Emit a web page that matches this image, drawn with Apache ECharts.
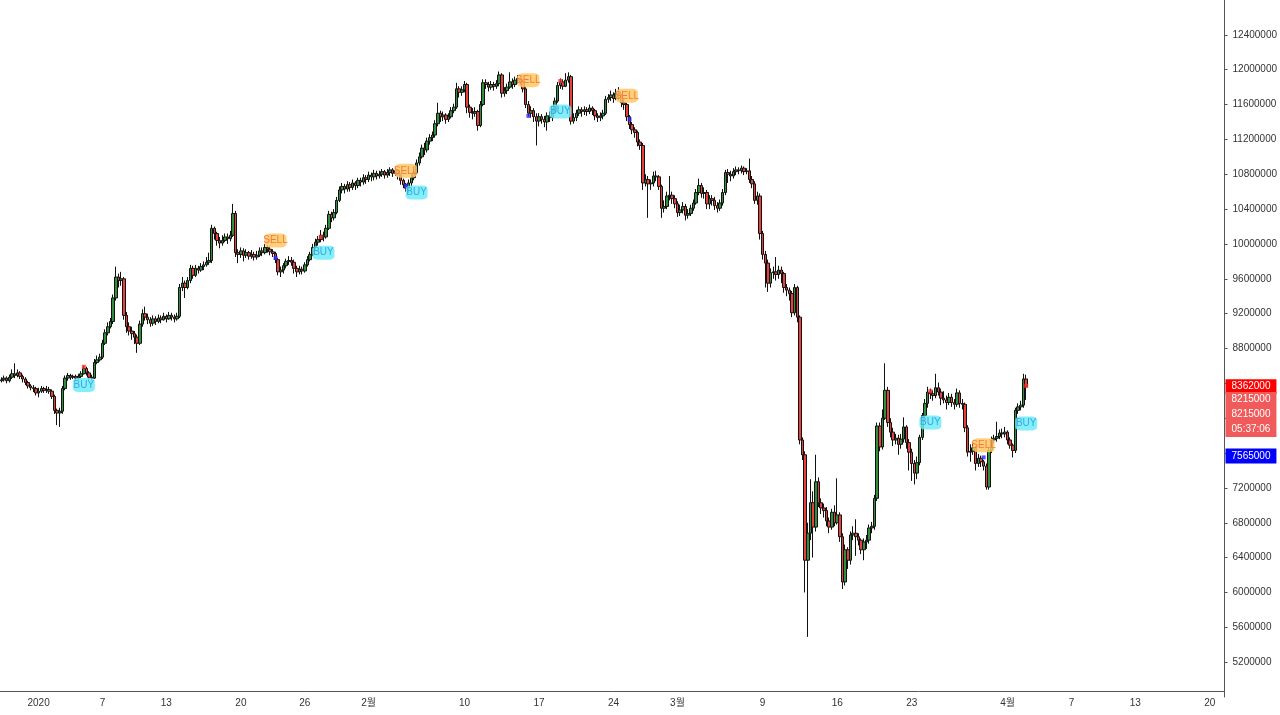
<!DOCTYPE html>
<html>
<head>
<meta charset="utf-8">
<title>BTC/KRW 6h</title>
<script src="https://cdn.jsdelivr.net/npm/echarts@6.0.0/dist/echarts.min.js"></script>
<style>
  html, body { margin: 0; padding: 0; background: #fff; }
  #main { width: 1280px; height: 715px; }
</style>
</head>
<body>
<div id="main"></div>
<script>
// prices are in units of 10,000 KRW (axis labels multiply back)
var opens = [
  843,844,846,843,847,851,849,852,848,845, 841,837,835,834,829,831,834,832,833,831,
  825,809,806,808,834,846,849,847,848,846, 848,851,857,852,847,846,864,867,870,886,
  898,905,911,938,962,958,960,918,905,900, 897,893,886,908,920,916,913,909,914,911,
  915,913,917,914,918,916,914,917,950,955, 950,958,972,964,972,970,974,976,979,981,
  1018,1012,1004,1001,1004,1008,1006,1010,1035,990, 988,992,987,990,986,988,985,987,992,990,
  996,994,991,989,982,968,970,975,980,981, 979,972,968,971,969,976,982,988,996,1002,
  1005,1010,1008,1018,1034,1030,1036,1050,1062,1066, 1063,1068,1065,1070,1067,1073,1071,1076,1074,1079,
  1077,1081,1078,1080,1083,1079,1082,1085,1081,1084, 1079,1073,1068,1064,1070,1076,1082,1093,1100,1110,
  1108,1118,1122,1125,1138,1150,1146,1148,1143,1146, 1153,1157,1178,1174,1177,1183,1157,1151,1150,1152,
  1136,1160,1185,1183,1180,1183,1181,1184,1194,1173, 1176,1180,1186,1183,1188,1190,1186,1178,1160,1150,
  1153,1146,1141,1146,1143,1140,1147,1145,1152,1164, 1182,1186,1181,1188,1192,1141,1145,1150,1154,1152,
  1154,1152,1156,1153,1147,1145,1147,1150,1166,1168, 1171,1167,1173,1170,1162,1160,1146,1137,1131,1128,
  1117,1113,1070,1074,1069,1070,1078,1077,1066,1041, 1043,1055,1056,1052,1046,1036,1039,1043,1033,1035,
  1041,1047,1059,1067,1058,1059,1046,1052,1050,1044, 1041,1047,1059,1082,1080,1078,1083,1085,1084,1087,
  1083,1084,1074,1069,1050,1055,1012,988,978,955, 967,968,965,970,966,950,947,943,921,950,
  916,775,758,637,668,703,675,727,703,697, 694,682,675,692,680,689,664,612,649,637,
  666,668,664,660,649,658,660,674,676,708, 791,767,800,832,795,784,775,777,770,776,
  790,772,761,748,737,749,778,803,817,830, 828,826,835,830,823,821,818,824,818,816,
  829,817,816,789,761,762,766,748,754,750, 745,721,763,775,777,779,783,782,784,775,
  769,763,809,813,815,845
];
var closes = [
  844,846,843,847,851,849,852,848,845,841, 837,835,834,829,831,834,832,833,831,825,
  809,806,808,834,846,849,847,848,846,848, 851,857,852,847,846,864,867,870,886,898,
  905,911,938,962,958,960,918,905,900,897, 893,886,908,920,916,913,909,914,911,915,
  913,917,914,918,916,914,917,950,955,950, 958,972,964,972,970,974,976,979,981,1018,
  1012,1004,1001,1004,1008,1006,1010,1035,990,988, 992,987,990,986,988,985,987,992,990,996,
  994,991,989,982,968,970,975,980,981,979, 972,968,971,969,976,982,988,996,1002,1005,
  1010,1008,1018,1034,1030,1036,1050,1062,1066,1063, 1068,1065,1070,1067,1073,1071,1076,1074,1079,1077,
  1081,1078,1080,1083,1079,1082,1085,1081,1084,1079, 1073,1068,1064,1070,1076,1082,1093,1100,1110,1108,
  1118,1122,1125,1138,1150,1146,1148,1143,1146,1153, 1157,1178,1174,1177,1183,1157,1151,1150,1152,1136,
  1160,1185,1183,1180,1183,1181,1184,1194,1173,1176, 1180,1186,1183,1188,1190,1186,1178,1160,1150,1153,
  1146,1141,1146,1143,1140,1147,1145,1152,1164,1182, 1186,1181,1188,1192,1141,1145,1150,1154,1152,1154,
  1152,1156,1153,1147,1145,1147,1150,1166,1168,1171, 1167,1173,1170,1162,1160,1146,1137,1131,1128,1117,
  1113,1070,1074,1069,1070,1078,1077,1066,1041,1043, 1055,1056,1052,1046,1036,1039,1043,1033,1035,1041,
  1047,1059,1067,1058,1059,1046,1052,1050,1044,1041, 1047,1059,1082,1080,1078,1083,1085,1084,1087,1083,
  1084,1074,1069,1050,1055,1012,988,978,955,967, 968,965,970,966,950,947,943,921,950,916,
  775,758,637,668,703,675,727,703,697,694, 682,675,692,680,689,664,612,649,637,666,
  668,664,660,649,658,660,674,676,708,791, 767,800,832,795,784,775,777,770,776,790,
  772,761,748,737,749,778,803,817,830,828, 826,835,830,823,821,818,824,818,816,829,
  817,816,789,761,762,766,748,754,750,745, 721,763,775,777,779,783,782,784,775,769,
  763,809,813,815,845,836.2
];
var lows = [
  841,842,840,841,845,846,847,845,841,838, 834,832,830,826,824,829,829,829,828,822,
  805,792,790,805,832,843,844,845,843,844, 846,850,849,844,843,845,862,865,868,884,
  895,903,908,935,950,952,913,898,895,890, 885,875,884,905,912,908,905,906,907,909,
  909,912,910,913,912,910,912,915,946,938, 948,955,960,962,966,968,970,974,976,978,
  1005,998,995,998,1002,1000,1003,1008,985,978, 984,980,984,982,983,981,982,985,986,988,
  990,987,985,978,964,962,966,972,976,975, 966,962,965,965,967,974,980,986,994,998,
  1002,1003,1006,1016,1025,1027,1034,1048,1058,1058, 1060,1060,1062,1062,1064,1066,1068,1069,1071,1072,
  1073,1074,1075,1077,1075,1076,1078,1077,1078,1074, 1068,1064,1060,1058,1066,1073,1080,1090,1098,1102,
  1105,1114,1118,1122,1135,1140,1141,1138,1140,1144, 1150,1155,1168,1170,1174,1150,1145,1143,1146,1130,
  1134,1158,1178,1175,1177,1176,1178,1181,1168,1169, 1172,1178,1178,1180,1184,1182,1174,1156,1146,1145,
  1140,1113,1135,1138,1134,1130,1140,1141,1150,1162, 1178,1177,1180,1185,1137,1138,1141,1147,1146,1148,
  1147,1149,1148,1142,1140,1141,1143,1148,1162,1164, 1162,1165,1165,1157,1154,1141,1132,1126,1122,1112,
  1108,1062,1066,1030,1062,1066,1072,1062,1030,1036, 1040,1050,1046,1041,1031,1032,1035,1027,1029,1032,
  1038,1045,1056,1053,1052,1040,1040,1044,1039,1036, 1038,1044,1056,1070,1072,1075,1079,1080,1081,1079,
  1080,1070,1064,1046,1045,1005,982,950,945,950, 960,958,960,955,944,940,935,916,918,910,
  770,752,600,549,660,640,670,698,690,686, 676,668,672,676,678,658,604,608,627,632,
  660,642,654,644,637,650,656,668,672,705, 762,764,798,790,778,768,770,758,765,772,
  765,740,728,724,730,746,775,800,812,822, 820,823,826,815,817,810,815,813,810,813,
  812,810,784,756,750,758,740,744,744,740, 718,718,760,771,773,776,777,778,770,765,
  755,760,805,809,812,821
];
var highs = [
  847,849,848,850,856,863,856,854,850,847, 843,839,838,836,835,837,836,837,836,833,
  827,811,812,837,849,852,851,850,850,851, 854,860,859,854,850,868,872,874,890,902,
  910,915,942,974,966,968,962,922,910,905, 900,896,912,925,928,920,916,918,917,919,
  918,921,919,922,921,919,921,954,962,958, 962,976,975,976,975,978,980,985,990,1022,
  1020,1014,1008,1010,1012,1012,1015,1046,1038,994, 996,995,994,992,993,991,992,996,996,1000,
  999,997,994,991,984,974,978,983,986,985, 982,975,975,974,979,986,991,1000,1006,1009,
  1016,1014,1022,1038,1037,1040,1054,1066,1070,1069, 1072,1071,1074,1072,1076,1076,1080,1079,1083,1082,
  1085,1084,1084,1086,1085,1086,1088,1087,1089,1086, 1081,1075,1070,1074,1080,1086,1097,1105,1114,1116,
  1122,1126,1129,1142,1162,1153,1152,1150,1150,1157, 1161,1185,1181,1181,1187,1185,1160,1156,1157,1154,
  1164,1189,1189,1186,1187,1186,1188,1198,1196,1180, 1184,1197,1190,1192,1194,1193,1189,1180,1164,1158,
  1156,1150,1150,1149,1147,1151,1152,1156,1168,1186, 1190,1189,1196,1197,1194,1150,1154,1158,1157,1158,
  1157,1160,1158,1155,1150,1151,1154,1170,1172,1176, 1174,1178,1180,1172,1166,1162,1148,1140,1134,1130,
  1120,1116,1080,1078,1074,1083,1084,1079,1068,1050, 1060,1078,1060,1056,1049,1045,1048,1046,1040,1045,
  1051,1063,1075,1070,1065,1062,1056,1056,1054,1048, 1051,1063,1085,1086,1084,1087,1089,1088,1090,1089,
  1087,1098,1078,1072,1060,1058,1015,992,982,972, 974,985,975,974,968,954,950,946,954,952,
  918,778,762,680,730,716,758,732,708,702, 698,686,696,700,731,692,668,655,652,670,
  676,684,668,662,662,666,678,681,712,795, 795,810,863,836,800,789,782,781,782,801,
  792,776,765,752,756,781,806,822,836,834, 832,851,841,834,831,826,829,828,822,834,
  832,822,818,792,770,771,768,759,757,752, 748,766,779,781,796,787,788,790,786,778,
  771,812,817,820,851,850
];

// bottom axis ticks (dates at 00:00) and their texts
var tickDates = ['2020-01-01','2020-01-07','2020-01-13','2020-01-20','2020-01-26','2020-02-01',
  '2020-02-10','2020-02-17','2020-02-24','2020-03-01','2020-03-09','2020-03-16','2020-03-23',
  '2020-04-01','2020-04-07','2020-04-13','2020-04-20'];
var tickTexts = ['2020','7','13','20','26','2월','10','17','24','3월','9','16','23','4월','7','13','20'];

// signal labels: candle index, price, kind
var sigIdx = [31, 103, 121, 152, 156, 198, 210, 235, 349, 369, 385];
var sigPrice = [838, 1004, 990, 1084, 1059, 1188, 1152, 1170, 795, 769, 794];
var sigType = ['BUY','SELL','BUY','SELL','BUY','SELL','BUY','SELL','BUY','SELL','BUY'];

// small marker dots
var redDotIdx = [31, 120, 210, 349, 385];
var redDotPrice = [859, 1008, 1187, 831, 837];
var blueDotIdx = [103, 152, 198, 236, 369];
var blueDotPrice = [984, 1067, 1147, 1143, 755];

// price tags on the right scale
var tagValues = [836.2, 821.5, 821.5, 821.5, 756.5];
var tagTexts = ['8362000', '8215000', '8215000', '05:37:06', '7565000'];
var tagColors = ['#ff0000', '#f05a5a', '#f05a5a', '#f05a5a', '#0000ff'];
var tagShift = [0, 0, 15, 30, 0];

var SLOTS = 460;
var start = Date.UTC(2019, 11, 28, 12);
var categories = [];
for (var i = 0; i < SLOTS; i++) {
    var d = new Date(start + i * 6 * 3600 * 1000);
    var hh = d.getUTCHours();
    categories.push(d.toISOString().slice(0, 10) + ' ' + (hh < 10 ? '0' + hh : hh));
}
var tickMap = {};
for (var j = 0; j < tickDates.length; j++) {
    tickMap[tickDates[j] + ' 00'] = tickTexts[j];
}
function isTick(idx, value) {
    return tickMap.hasOwnProperty(value);
}

// price scale labels sitting under a tag are dropped, like the original
function underTag(v) {
    for (var q = 0; q < tagValues.length; q++) {
        if (Math.abs(v - tagValues[q]) < 12) return true;
    }
    return false;
}

var candles = [];
for (var k = 0; k < closes.length; k++) {
    candles.push([opens[k], closes[k], lows[k], highs[k]]);
}

var signals = [];
for (var s = 0; s < sigIdx.length; s++) {
    var buy = sigType[s] == 'BUY';
    signals.push({
        name: sigType[s],
        coord: [categories[sigIdx[s]], sigPrice[s]],
        itemStyle: { color: buy ? 'rgba(110,235,250,0.85)' : 'rgba(255,200,100,0.85)' },
        label: { color: buy ? '#35a9e0' : '#f47a3c' }
    });
}

var tags = [];
for (var t = 0; t < tagValues.length; t++) {
    tags.push({
        yAxis: tagValues[t],
        label: {
            formatter: tagTexts[t],
            backgroundColor: tagColors[t],
            offset: [0, tagShift[t]]
        }
    });
}

function dots(idx, price) {
    var out = [];
    for (var n = 0; n < idx.length; n++) out.push([categories[idx[n]], price[n]]);
    return out;
}

var myChart = echarts.init(document.getElementById('main'));
myChart.setOption({
    animation: false,
    backgroundColor: '#ffffff',
    textStyle: { fontFamily: 'Liberation Sans, "Noto Sans CJK KR", sans-serif' },
    grid: { left: -1, right: 49, top: -1, bottom: 18 },
    xAxis: {
        type: 'category',
        data: categories,
        boundaryGap: true,
        offset: -6,
        axisLine: { lineStyle: { color: '#555555', width: 1 } },
        axisTick: { interval: isTick, alignWithLabel: true, length: 4, lineStyle: { color: '#555555' } },
        axisLabel: {
            interval: isTick,
            formatter: function (value) { return tickMap[value] || ''; },
            color: '#333333',
            fontSize: 10,
            margin: 7
        },
        splitLine: { show: false }
    },
    yAxis: {
        type: 'value',
        position: 'right',
        min: 480,
        max: 1280,
        interval: 40,
        axisLine: { show: true, lineStyle: { color: '#555555' } },
        axisTick: { show: true, length: 3, lineStyle: { color: '#555555' } },
        axisLabel: {
            color: '#333333',
            fontSize: 10,
            margin: 8,
            showMinLabel: false,
            showMaxLabel: false,
            formatter: function (v) { return underTag(v) ? '' : String(Math.round(v * 10000)); }
        },
        splitLine: { show: false }
    },
    series: [
        {
            type: 'candlestick',
            data: candles,
            barWidth: 3,
            itemStyle: {
                color: '#2f8f3a',
                color0: '#e8403a',
                borderColor: '#111111',
                borderColor0: '#111111',
                borderWidth: 1
            },
            markPoint: {
                symbol: 'roundRect',
                symbolSize: [22, 14],
                label: { show: true, formatter: '{b}', fontSize: 10 },
                data: signals
            }
        },
        {
            type: 'scatter',
            symbol: 'rect',
            symbolSize: 4,
            itemStyle: { color: '#ff2a2a' },
            data: dots(redDotIdx, redDotPrice)
        },
        {
            type: 'scatter',
            symbol: 'rect',
            symbolSize: 4,
            itemStyle: { color: '#2a2aff' },
            data: dots(blueDotIdx, blueDotPrice)
        },
        {
            // price tags drawn on the right scale
            type: 'line',
            data: [],
            clip: false,
            silent: true,
            markLine: {
                silent: true,
                symbol: 'none',
                animation: false,
                lineStyle: { color: 'rgba(0,0,0,0)', type: 'solid', width: 1 },
                label: {
                    show: true,
                    position: 'end',
                    distance: 1,
                    color: '#ffffff',
                    fontSize: 10,
                    padding: [3, 6, 2, 6]
                },
                data: tags
            }
        }
    ]
});
</script>
</body>
</html>
